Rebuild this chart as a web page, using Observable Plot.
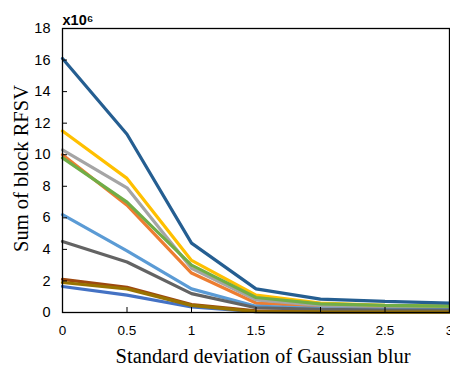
<!DOCTYPE html>
<html><head><meta charset="utf-8">
<script src="https://cdn.jsdelivr.net/npm/d3@7"></script>
<script src="https://cdn.jsdelivr.net/npm/@observablehq/plot@0.6"></script>
<style>body{margin:0;background:#fff}</style>
</head><body><div id="chart"></div>
<script>
const sigma = [0, 0.5, 1, 1.5, 2, 2.5, 3];
const yTicks = [0, 2, 4, 6, 8, 10, 12, 14, 16, 18];
const xTickLabels = ["0", "0.5", "1", "1.5", "2", "2.5", "3"];
// series in draw order
const seriesNames = ["S1","S2","S3","S4","S5","S6","S7","S8","S9","S10"];
const seriesColors = ["#4472c4","#ed7d31","#a5a5a5","#ffc000","#5b9bd5","#70ad47","#255e91","#9e480e","#636363","#997300"];
const s1  = [1.65, 1.1, 0.35, 0.05, 0.03, 0.02, 0.02];
const s2  = [10.0, 6.8, 2.5, 0.6, 0.4, 0.35, 0.3];
const s3  = [10.3, 7.9, 2.8, 0.8, 0.45, 0.4, 0.35];
const s4  = [11.5, 8.5, 3.3, 1.1, 0.6, 0.45, 0.4];
const s5  = [6.2, 3.9, 1.5, 0.4, 0.25, 0.2, 0.2];
const s6  = [9.8, 7.0, 3.0, 0.95, 0.55, 0.45, 0.4];
const s7  = [16.1, 11.3, 4.4, 1.5, 0.85, 0.7, 0.6];
const s8  = [2.1, 1.6, 0.5, 0.1, 0.06, 0.05, 0.05];
const s9  = [4.5, 3.2, 1.2, 0.3, 0.2, 0.15, 0.15];
const s10 = [1.9, 1.5, 0.45, 0.06, 0.04, 0.03, 0.03];
const seriesValues = [s1,s2,s3,s4,s5,s6,s7,s8,s9,s10];

const rows = seriesNames.flatMap((name, i) =>
  sigma.map((x, j) => ({series: name, x, y: seriesValues[i][j]})));

const sans = "'Liberation Sans', Arial, sans-serif";
const serif = "'Liberation Serif', 'DejaVu Serif', serif";

const chart = Plot.plot({
  width: 450,
  height: 374,
  marginLeft: 62,
  marginRight: 1,
  marginTop: 28,
  marginBottom: 62,
  style: {fontFamily: sans, fontSize: "13px", color: "#000", background: "#fff"},
  x: {domain: [0, 3]},
  y: {domain: [0, 18]},
  color: {domain: seriesNames, range: seriesColors},
  marks: [
    Plot.line(rows, {x: "x", y: "y", z: "series", stroke: "series", strokeWidth: 3.2, strokeLinejoin: "miter"}),
    Plot.frame({stroke: "#000", strokeWidth: 1.3}),
    Plot.axisX({ticks: sigma, tickFormat: (d, i) => xTickLabels[i], tickSize: -5, tickPadding: 18, fontSize: 13.5, label: null}),
    Plot.axisY({ticks: yTicks, tickFormat: d => String(d), tickSize: -5, tickPadding: 17, fontSize: 14.5, label: null}),
    Plot.text(["x10⁶"], {frameAnchor: "top-left", dy: -14, dx: 0, textAnchor: "start", fontWeight: "bold", fontSize: 14.5}),
    Plot.text(["Standard deviation of Gaussian blur"], {frameAnchor: "bottom", dx: 7, dy: 50, fontFamily: serif, fontSize: 20.5}),
    Plot.text(["Sum of block RFSV"], {frameAnchor: "left", textAnchor: "middle", dx: -41, dy: -2, rotate: -90, fontFamily: serif, fontSize: 20.5})
  ]
});
document.getElementById("chart").append(chart);
</script></body></html>
